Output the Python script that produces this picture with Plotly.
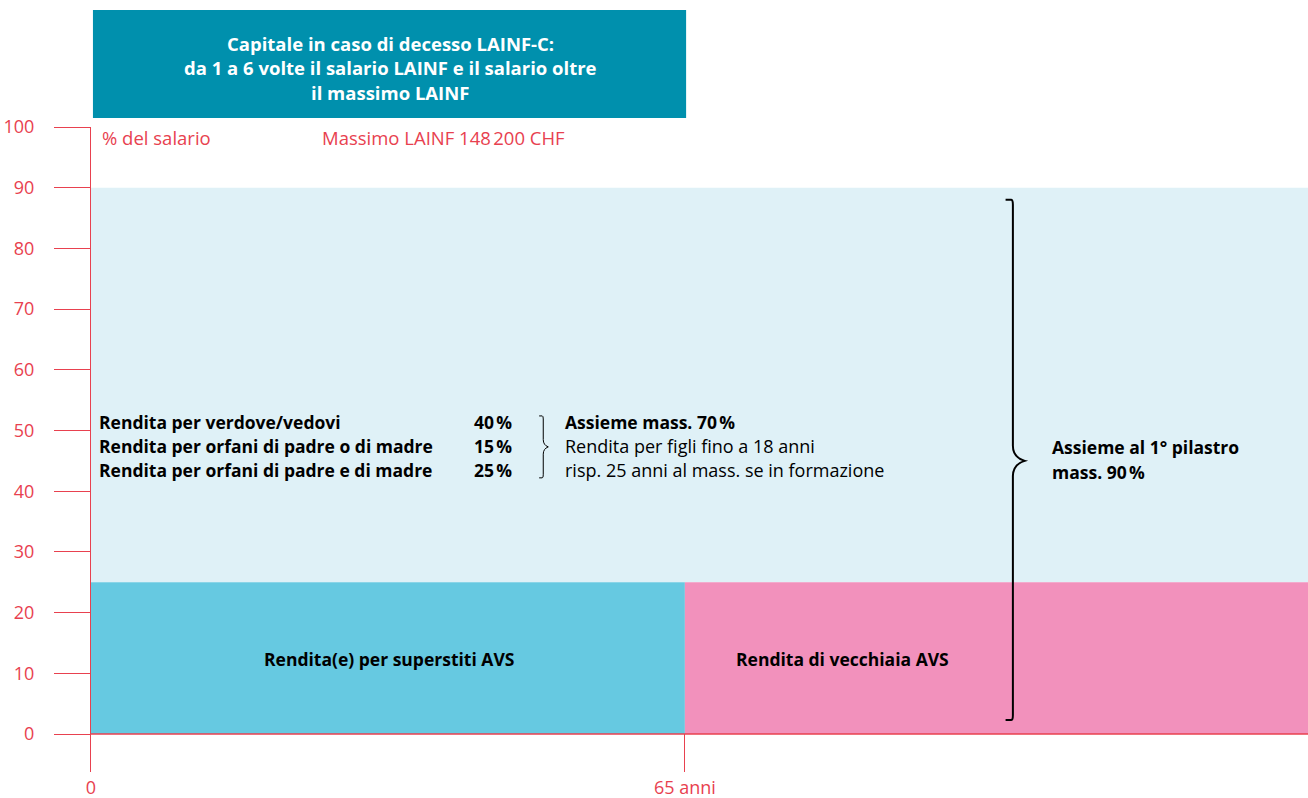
import plotly.graph_objects as go

# ---- data ----
y_ticks = [0, 10, 20, 30, 40, 50, 60, 70, 80, 90, 100]
x_tick_vals = [0, 65]
x_tick_text = ["0", "65 anni"]
age_start = 0
age_split = 65          # retirement age
age_end = 133.2         # right edge of the drawing
avs_level = 25          # 1st pillar AVS
total_level = 90        # max together with 1st pillar
rate_labels = ["Rendita per verdove/vedovi",
               "Rendita per orfani di padre o di madre",
               "Rendita per orfani di padre e di madre"]
rate_values = [40, 15, 25]
children_lines = ["Assieme mass. 70\u202f%",
                  "Rendita per figli fino a 18 anni",
                  "risp. 25 anni al mass. se in formazione"]
box_lines = ["Capitale in caso di decesso LAINF-C:",
             "da 1 a 6 volte il salario LAINF e il salario oltre",
             "il massimo LAINF"]

RED = "#e8414f"
LIGHT = "#dff1f7"
CYAN = "#66c9e1"
PINK = "#f291bc"
TEAL = "#0090ad"
FONT = "Open Sans"
FSB = 17.5   # bold body text
FSR = 18     # regular body text

fig = go.Figure()

# light blue area (LAINF up to 90 %)
fig.add_trace(go.Bar(x=[(age_start + age_end) / 2], y=[total_level - avs_level], base=[avs_level],
                     width=[age_end - age_start], marker=dict(color=LIGHT, line_width=0),
                     hoverinfo="skip", showlegend=False))
# AVS survivors
fig.add_trace(go.Bar(x=[(age_start + age_split) / 2], y=[avs_level], base=[0],
                     width=[age_split - age_start], marker=dict(color=CYAN, line_width=0),
                     hoverinfo="skip", showlegend=False))
# AVS old age
fig.add_trace(go.Bar(x=[(age_split + age_end) / 2], y=[avs_level], base=[0],
                     width=[age_end - age_split], marker=dict(color=PINK, line_width=0),
                     hoverinfo="skip", showlegend=False))

anns = []
# header box text
for i, line in enumerate(box_lines):
    anns.append(dict(xref="paper", yref="paper", x=0.2457, y=1.1302 - i * 0.038,
                     text=f"<b>{line}</b>", showarrow=False,
                     font=dict(family=FONT, size=18.5, color="white"),
                     xanchor="center", yanchor="middle"))
# red headers
anns.append(dict(x=1.0, y=98.2, text="% del salario", showarrow=False, xanchor="left",
                 yanchor="middle", font=dict(family=FONT, size=18.5, color=RED)))
anns.append(dict(x=25.1, y=98.2, text="Massimo LAINF 148\u202f200 CHF", showarrow=False,
                 xanchor="left", yanchor="middle", font=dict(family=FONT, size=18.5, color=RED)))
# rates
line_y = [51.4, 47.4, 43.5]
for lab, val, yy in zip(rate_labels, rate_values, line_y):
    anns.append(dict(x=0.7, y=yy, text=f"<b>{lab}</b>", showarrow=False, xanchor="left",
                     yanchor="middle", font=dict(family=FONT, size=FSB, color="black")))
    anns.append(dict(x=46.3, y=yy, text=f"<b>{val}\u202f%</b>", showarrow=False, xanchor="right",
                     yanchor="middle", font=dict(family=FONT, size=FSB, color="black")))
for i, (txt, yy) in enumerate(zip(children_lines, line_y)):
    bold = i == 0
    t = f"<b>{txt}</b>" if bold else txt
    anns.append(dict(x=51.7, y=yy, text=t, showarrow=False, xanchor="left",
                     yanchor="middle", font=dict(family=FONT, size=FSB if bold else FSR, color="black")))
# big brace label
anns.append(dict(x=105.0, y=47.3, text="<b>Assieme al 1° pilastro</b>", showarrow=False,
                 xanchor="left", yanchor="middle", font=dict(family=FONT, size=FSB, color="black")))
anns.append(dict(x=105.0, y=43.2, text=f"<b>mass. {total_level}\u202f%</b>", showarrow=False,
                 xanchor="left", yanchor="middle", font=dict(family=FONT, size=FSB, color="black")))
# bar labels
anns.append(dict(x=32.6, y=12.4, text="<b>Rendita(e) per superstiti AVS</b>", showarrow=False,
                 xanchor="center", yanchor="middle", font=dict(family=FONT, size=FSB, color="black")))
anns.append(dict(x=82.3, y=12.4, text="<b>Rendita di vecchiaia AVS</b>", showarrow=False,
                 xanchor="center", yanchor="middle", font=dict(family=FONT, size=FSB, color="black")))


def brace(x, top, bottom, mid, hx, px, r, m, mc):
    return (f"M {x-hx},{top} L {x-0.25*hx},{top} Q {x},{top} {x},{top-r} "
            f"L {x},{mid+m} Q {x},{mid+mc} {x+px},{mid} Q {x},{mid-mc} {x},{mid-m} "
            f"L {x},{bottom+r} Q {x},{bottom} {x-0.25*hx},{bottom} L {x-hx},{bottom}")


shapes = [
    # header box
    dict(type="rect", xref="paper", yref="paper", x0=0.0016, x1=0.489, y0=1.014, y1=1.1814,
         fillcolor=TEAL, line_width=0, layer="above"),
    # zero line
    dict(type="line", xref="paper", yref="y", x0=0, x1=1, y0=0, y1=0,
         line=dict(color=RED, width=1.5), layer="above"),
    # big brace
    dict(type="path", path=brace(100.9, 88.0, 2.3, 45.0, 0.8, 1.3, 0.8, 2.5, 0.6),
         line=dict(color="black", width=2), layer="above"),
    # small brace
    dict(type="path", path=brace(49.5, 52.4, 42.2, 47.3, 0.45, 0.55, 0.5, 1.2, 0.3),
         line=dict(color="black", width=1), layer="above"),
]

fig.update_layout(
    width=1308, height=798,
    margin=dict(l=91, r=0, t=127, b=26, pad=0),
    paper_bgcolor="white", plot_bgcolor="white",
    barmode="overlay", showlegend=False,
    annotations=anns, shapes=shapes,
    font=dict(family=FONT, color=RED),
    xaxis=dict(range=[age_start, age_end], tickmode="array", tickvals=x_tick_vals,
               ticktext=x_tick_text, ticks="inside", ticklen=38, tickcolor=RED, tickwidth=1,
               showgrid=False, zeroline=False, showline=False, automargin=False,
               ticklabelstandoff=3,
               tickfont=dict(family=FONT, size=18, color=RED), fixedrange=True),
    yaxis=dict(range=[-6.26, 100], tickmode="array", tickvals=y_ticks, ticks="outside",
               ticklen=36, tickcolor=RED, tickwidth=1, showgrid=False, zeroline=False,
               showline=True, linecolor=RED, linewidth=1, automargin=False,
               ticklabelstandoff=16,
               tickfont=dict(family=FONT, size=18, color=RED), fixedrange=True),
)

fig.write_html("out.html", config={"displayModeBar": False},
               post_script="document.body.style.margin='0';document.body.style.padding='0';"
                           "document.body.style.overflow='hidden';")
